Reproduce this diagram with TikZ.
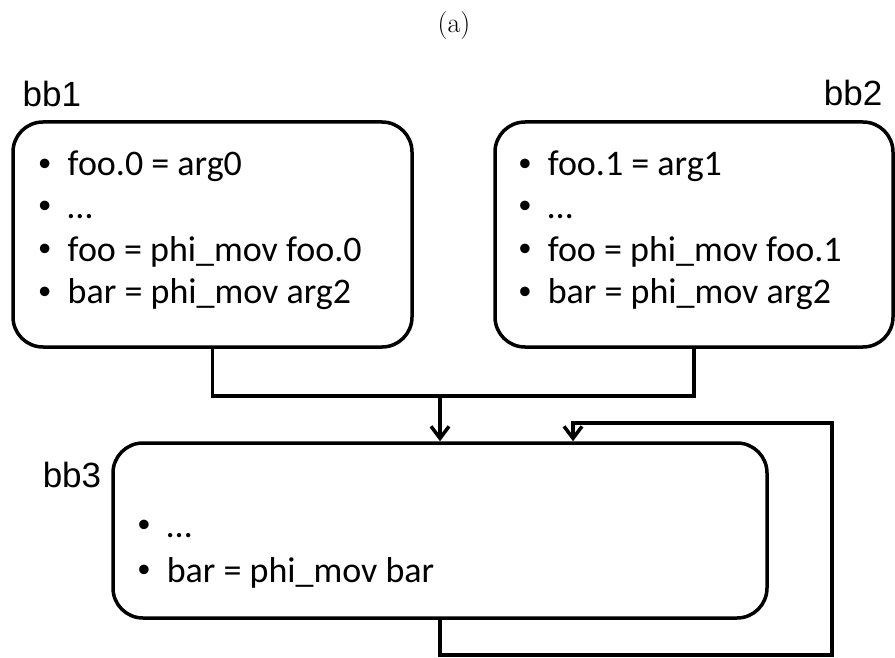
\documentclass[tikz,border=0pt]{standalone}
\usepackage{fontspec}
\newfontfamily\calfont{Carlito}
\newfontfamily\arialfont{Liberation Sans}
\usetikzlibrary{arrows.meta}
\tikzstyle{block}=[draw, rounded corners=30pt, line width=3.5pt]
\tikzstyle{item}=[anchor=base west, inner sep=0pt, font=\calfont\fontsize{36}{43}\selectfont]
\tikzstyle{lbl}=[inner sep=0pt, font=\arialfont\fontsize{35}{42}\selectfont]
\tikzstyle{flow}=[line width=3.5pt, -{Straight Barb[length=12pt, width=18pt]}]
\newcommand{\bul}{\makebox[30pt][l]{\hspace{1pt}\arialfont\fontsize{35}{36}\selectfont\raisebox{0.5pt}{•}}}

\begin{document}
\begin{tikzpicture}[x=1pt, y=-1pt, line width=3.5pt]
    \useasboundingbox (0,0) rectangle (895,658);
% Caption
    \node[anchor=base, inner sep=0pt, font=\fontsize{28}{32}\selectfont] (cap) at (454,33) {(a)};
% Blocks
    \node[block, minimum width=399pt, minimum height=225pt] (bb1) at (212.5,234.5) {};
    \node[block, minimum width=398pt, minimum height=225pt] (bb2) at (694,234.5) {};
    \node[block, minimum width=654pt, minimum height=175pt] (bb3) at (440,530.5) {};
% Block names
    \node[lbl, anchor=base west] (n1) at (21,107) {bb1};
    \node[lbl, anchor=base east] (n2) at (884,106) {bb2};
    \node[lbl, anchor=base west] (n3) at (41,487) {bb3};
% Instructions
    \node[item] (a1) at (36,176) {\bul foo.0 = arg0};
    \node[item] (a2) at (36,218.5) {\bul …};
    \node[item] (a3) at (36,261) {\bul foo = phi\_mov foo.0};
    \node[item] (a4) at (36,303.5) {\bul bar = phi\_mov arg2};
    \node[item] (b1) at (516,176) {\bul foo.1 = arg1};
    \node[item] (b2) at (516,218.5) {\bul …};
    \node[item] (b3) at (516,261) {\bul foo = phi\_mov foo.1};
    \node[item] (b4) at (516,303.5) {\bul bar = phi\_mov arg2};
    \node[item] (c1) at (135,537) {\bul …};
    \node[item] (c2) at (135,582) {\bul bar = phi\_mov bar};
% Edges
    \coordinate (join) at (440,396);
    \coordinate (low) at (832,655);
    \coordinate (back) at (573,423);
    \draw (bb1.south) |- (join) -| (bb2.south);
    \draw[flow] (join) -- (bb3.north);
    \draw[flow] (bb3.south) |- (low) |- (back) -- (back |- bb3.north);
\end{tikzpicture}
\end{document}
